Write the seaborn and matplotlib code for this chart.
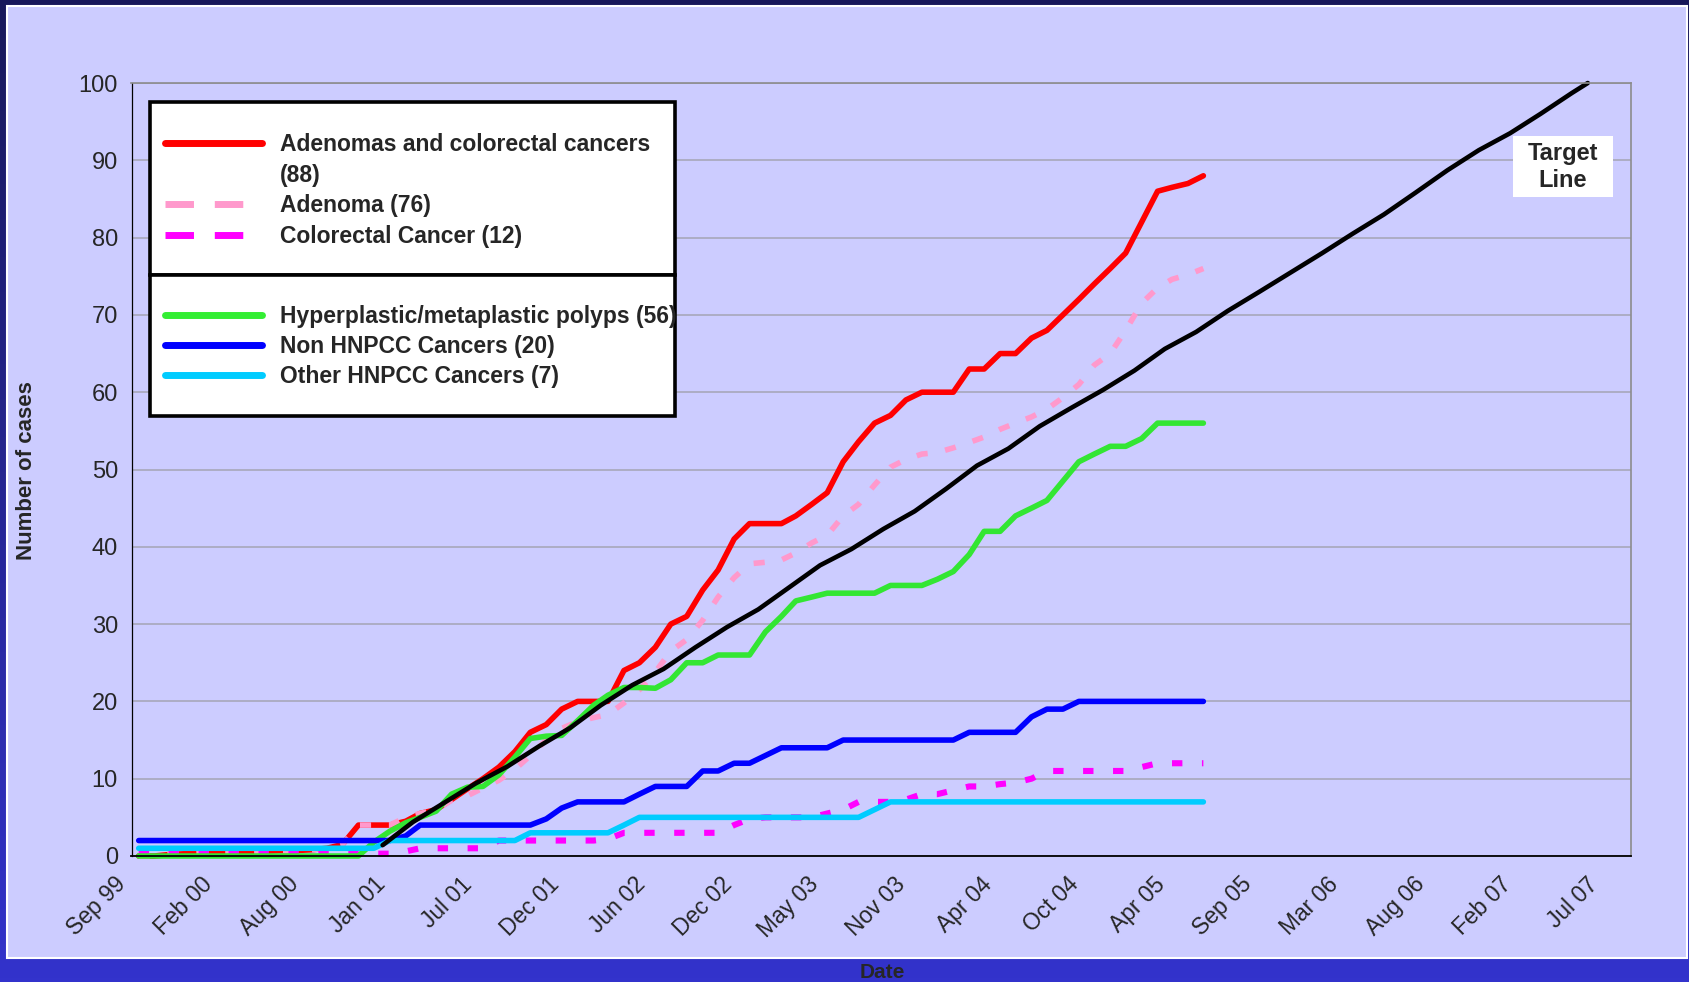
import numpy as np
import pandas as pd
import matplotlib
matplotlib.use('Agg')
import matplotlib.pyplot as plt
import matplotlib.dates as mdates
from matplotlib.colors import LinearSegmentedColormap
from matplotlib.lines import Line2D
from matplotlib.patches import Rectangle
from matplotlib.transforms import ScaledTranslation
import seaborn as sns

# Cumulative cases per month, Sep 1999 .. May 2005 (69 months)
adenoma_crc = [0, 0, 0.2, 0.3, 0.4, 0.5, 0.5, 0.6, 0.6, 0.7, 0.7, 0.8, 1, 1.5,
               4, 4, 4, 4.5, 5.5, 6,
               7.3, 8.7, 10, 11.5, 13.5, 16, 17, 19, 20, 20,
               20, 24, 25, 27, 30, 31, 34.4, 37, 41, 43,
               43, 43, 44, 45.5, 47, 51, 53.6, 56, 57, 59,
               60, 60, 60, 63, 63, 65, 65, 67, 68, 70,
               72, 74, 76, 78, 82, 86, 86.5, 87, 88]
adenoma = [0, 0, 0.2, 0.3, 0.4, 0.5, 0.5, 0.6, 0.6, 0.7, 0.7, 0.8, 1, 1.5,
           4, 4, 4, 5, 5.5, 6,
           7.2, 7.8, 8.8, 9.8, 11.2, 13, 15, 16.5, 17.4, 17.9,
           18.3, 19.8, 21.5, 23.8, 26.5, 28, 30.5, 33.5, 36, 37.8,
           38, 38.3, 39.2, 40.5, 41.5, 44, 45.5, 48, 50.3, 51.3,
           52, 52.2, 52.8, 53.5, 54.2, 55.2, 56, 56.8, 57.8, 59.3,
           61, 63.5, 65, 68, 71.5, 73.5, 74.6, 75.2, 76]
colorectal = [0.3, 0.3, 0.3, 0.3, 0.3, 0.3, 0.3, 0.3, 0.3, 0.3, 0.3, 0.3, 0.3, 0.3,
              0.3, 0.3, 0.3, 0.6, 1, 1,
              1, 1, 1, 2, 2, 2, 2, 2, 2, 2,
              2.2, 3, 3, 3, 3, 3, 3, 3, 4, 4.8,
              5, 5, 5, 5, 5.5, 6, 7, 7, 7, 7.3,
              8, 8, 8.5, 9, 9, 9.3, 9.5, 10, 11, 11,
              11, 11, 11, 11, 11.5, 12, 12, 12, 12]
hyperplastic = [0, 0, 0, 0, 0, 0, 0, 0, 0, 0, 0, 0, 0, 0,
                0, 1.8, 3.2, 4.3, 5, 5.8,
                8, 8.9, 9, 10.5, 12.8, 15.2, 15.5, 15.6, 17.5, 19.5,
                20.8, 21.8, 21.8, 21.7, 22.8, 25, 25, 26, 26, 26,
                29, 31, 33, 33.5, 34, 34, 34, 34, 35, 35,
                35, 35.8, 36.8, 39, 42, 42, 44, 45, 46, 48.5,
                51, 52, 53, 53, 54, 56, 56, 56, 56]
non_hnpcc = [2, 2, 2, 2, 2, 2, 2, 2, 2, 2, 2, 2, 2, 2,
             2, 2, 2, 2.6, 4, 4,
             4, 4, 4, 4, 4, 4, 4.8, 6.2, 7, 7,
             7, 7, 8, 9, 9, 9, 11, 11, 12, 12,
             13, 14, 14, 14, 14, 15, 15, 15, 15, 15,
             15, 15, 15, 16, 16, 16, 16, 18, 19, 19,
             20, 20, 20, 20, 20, 20, 20, 20, 20]
other_hnpcc = [1, 1, 1, 1, 1, 1, 1, 1, 1, 1, 1, 1, 1, 1,
               1, 1, 2, 2, 2, 2,
               2, 2, 2, 2, 2, 3, 3, 3, 3, 3,
               3, 4, 5, 5, 5, 5, 5, 5, 5, 5,
               5, 5, 5, 5, 5, 5, 5, 6, 7, 7,
               7, 7, 7, 7, 7, 7, 7, 7, 7, 7,
               7, 7, 7, 7, 7, 7, 7, 7, 7]

target_months = ['2001-01', '2001-03', '2001-05', '2001-07', '2001-09', '2001-11',
                 '2002-01', '2002-03', '2002-05', '2002-07', '2002-09', '2002-11',
                 '2003-01', '2003-03', '2003-05', '2003-07', '2003-09', '2003-11',
                 '2004-01', '2004-03', '2004-05', '2004-07', '2004-09', '2004-11',
                 '2005-01', '2005-03', '2005-05', '2005-07', '2005-09', '2005-11',
                 '2006-01', '2006-03', '2006-05', '2006-07', '2006-09', '2006-11',
                 '2007-01', '2007-03', '2007-05', '2007-06']
target_vals = [1.4, 4.4, 6.9, 9.4, 11.6, 14.2,
               16.6, 19.5, 22.1, 24.2, 27, 29.6,
               31.9, 34.7, 37.6, 39.7, 42.3, 44.6,
               47.5, 50.5, 52.7, 55.6, 58, 60.3,
               62.8, 65.6, 67.8, 70.5, 73, 75.5,
               78, 80.5, 83, 85.8, 88.7, 91.3,
               93.5, 96, 98.7, 100]

tick_labels = ['Sep 99', 'Feb 00', 'Aug 00', 'Jan 01', 'Jul 01', 'Dec 01', 'Jun 02',
               'Dec 02', 'May 03', 'Nov 03', 'Apr 04', 'Oct 04', 'Apr 05', 'Sep 05',
               'Mar 06', 'Aug 06', 'Feb 07', 'Jul 07']

sns.set_style('white')
plt.rcParams['font.family'] = ['Liberation Sans', 'DejaVu Sans']

months = pd.date_range('1999-09-01', periods=len(adenoma_crc), freq='MS') + pd.Timedelta(days=14)
df = pd.DataFrame({'Date': months,
                   'adenoma_crc': adenoma_crc, 'adenoma': adenoma, 'colorectal': colorectal,
                   'hyperplastic': hyperplastic, 'non_hnpcc': non_hnpcc,
                   'other_hnpcc': other_hnpcc})
target = pd.DataFrame({'Date': pd.to_datetime(target_months), 'Cases': target_vals})

W, H = 1690, 982
fig = plt.figure(figsize=(W / 100, H / 100), dpi=100)

# slide background: dark frame gradient + lavender panel
bg = fig.add_axes([0, 0, 1, 1], zorder=-5)
grad = np.linspace(0, 1, 256).reshape(-1, 1)
frame_cmap = LinearSegmentedColormap.from_list('frame', ['#18185a', '#3333cc'])
bg.imshow(grad, cmap=frame_cmap, aspect='auto', extent=[0, 1, 0, 1], origin='upper')
bg.add_patch(Rectangle((7 / W, 1 - 958 / H), (1687 - 7) / W, (958 - 6) / H,
                       facecolor='#ccccff', edgecolor='white', lw=1.5))
bg.set_xlim(0, 1)
bg.set_ylim(0, 1)
bg.axis('off')

ax = fig.add_axes([131.5 / W, 1 - 856 / H, (1631 - 131.5) / W, (856 - 83) / H])
ax.set_facecolor('#ccccff')

pink_dash = (0, (2.0, 3.2))
mag_dash = (0, (1.7, 3.2))
sns.lineplot(data=df, x='Date', y='adenoma_crc', ax=ax, color='#ff0000', linewidth=4.0,
             errorbar=None, legend=False, solid_capstyle='round', clip_on=False)
sns.lineplot(data=df, x='Date', y='adenoma', ax=ax, color='#ff99cc', linewidth=4.0,
             linestyle=pink_dash, errorbar=None, legend=False, clip_on=False)
sns.lineplot(data=df, x='Date', y='colorectal', ax=ax, color='#ff00ff', linewidth=4.4,
             linestyle=mag_dash, errorbar=None, legend=False, clip_on=False)
sns.lineplot(data=df, x='Date', y='hyperplastic', ax=ax, color='#33e633', linewidth=4.0,
             errorbar=None, legend=False, solid_capstyle='round', clip_on=False)
sns.lineplot(data=df, x='Date', y='non_hnpcc', ax=ax, color='#0000ff', linewidth=4.0,
             errorbar=None, legend=False, solid_capstyle='round', clip_on=False)
sns.lineplot(data=df, x='Date', y='other_hnpcc', ax=ax, color='#00ccff', linewidth=4.0,
             errorbar=None, legend=False, solid_capstyle='round', clip_on=False)
sns.lineplot(data=target, x='Date', y='Cases', ax=ax, color='black', linewidth=3.3,
             errorbar=None, legend=False, solid_capstyle='round', clip_on=False)

# axes
tick0 = pd.Timestamp('1999-09-01')
tick_dates = [tick0 + pd.Timedelta(days=168.3 * i) for i in range(len(tick_labels))]
ax.set_xlim(mdates.date2num(tick0), mdates.date2num(pd.Timestamp('2007-08-24')))
ax.set_xticks(mdates.date2num(tick_dates))
ax.set_xticklabels(tick_labels, rotation=45, ha='right', va='center', rotation_mode='anchor')
ax.set_ylim(0, 100)
ax.set_yticks(range(0, 101, 10))
ax.set_xlabel('')
ax.set_ylabel('')
ax.yaxis.grid(True, color='#a4a4b4', lw=1.1)
ax.xaxis.grid(False)
ax.set_axisbelow(True)
for side in ['top', 'right']:
    ax.spines[side].set_color('#8c8c8c')
    ax.spines[side].set_linewidth(1.2)
ax.spines['left'].set_color('black')
ax.spines['left'].set_linewidth(0.9)
ax.spines['bottom'].set_color('black')
ax.spines['bottom'].set_linewidth(1.3)
ax.tick_params(axis='x', direction='out', length=5, width=1, color='black',
               labelsize=16.5, pad=13)
ax.tick_params(axis='y', direction='out', length=4.8, width=1, color='black',
               labelsize=17, pad=5)
shift = ScaledTranslation(-9 / 100, 0, fig.dpi_scale_trans)
for lab in ax.get_xticklabels():
    lab.set_transform(lab.get_transform() + shift)

fig.text(27 / W, 1 - 471 / H, 'Number of cases', rotation=90, ha='center', va='center',
         fontsize=16, fontweight='bold')
fig.text(882 / W, 1 - 973 / H, 'Date', ha='center', va='center',
         fontsize=15, fontweight='bold')

# legend boxes
for y0, y1 in [(102, 275), (275, 416)]:
    ax.add_patch(Rectangle((150 / W, 1 - y1 / H), (675 - 150) / W, (y1 - y0) / H,
                           transform=fig.transFigure, facecolor='white', edgecolor='black',
                           lw=2.6, zorder=4, clip_on=False))

leg_font = {'weight': 'bold', 'size': 16.5}
top_handles = [Line2D([], [], color='#ff0000', lw=5, solid_capstyle='round'),
               Line2D([], [], lw=0, color='none'),
               Line2D([], [], color='#ff99cc', lw=5, linestyle=(0, (4.1, 3))),
               Line2D([], [], color='#ff00ff', lw=5, linestyle=(0, (4.1, 3)))]
top_labels = ['Adenomas and colorectal cancers', '(88)', 'Adenoma (76)', 'Colorectal Cancer (12)']
leg1 = ax.legend(top_handles, top_labels, loc='upper left',
                 bbox_to_anchor=(165 / W, 1 - 133 / H), bbox_transform=fig.transFigure,
                 frameon=False, prop=leg_font, handlelength=4.24, handletextpad=0.79,
                 labelspacing=0.33, borderpad=0, borderaxespad=0)
ax.add_artist(leg1)
bot_handles = [Line2D([], [], color='#33ee33', lw=5, solid_capstyle='round'),
               Line2D([], [], color='#0000ff', lw=5, solid_capstyle='round'),
               Line2D([], [], color='#00ccff', lw=5, solid_capstyle='round')]
bot_labels = ['Hyperplastic/metaplastic polyps (56)', 'Non HNPCC Cancers (20)',
              'Other HNPCC Cancers (7)']
leg2 = ax.legend(bot_handles, bot_labels, loc='upper left',
                 bbox_to_anchor=(165 / W, 1 - 305 / H), bbox_transform=fig.transFigure,
                 frameon=False, prop=leg_font, handlelength=4.24, handletextpad=0.79,
                 labelspacing=0.31, borderpad=0, borderaxespad=0)

# target line label
ax.add_patch(Rectangle((1513 / W, 1 - 197 / H), 100 / W, 61 / H, transform=fig.transFigure,
                       facecolor='white', edgecolor='none', zorder=4, clip_on=False))
ax.text(1563 / W, 1 - 167 / H, 'Target\nLine', transform=fig.transFigure, ha='center',
        va='center', fontsize=17, fontweight='bold', linespacing=1.25, zorder=6)

fig.savefig('out.png', dpi=100)
